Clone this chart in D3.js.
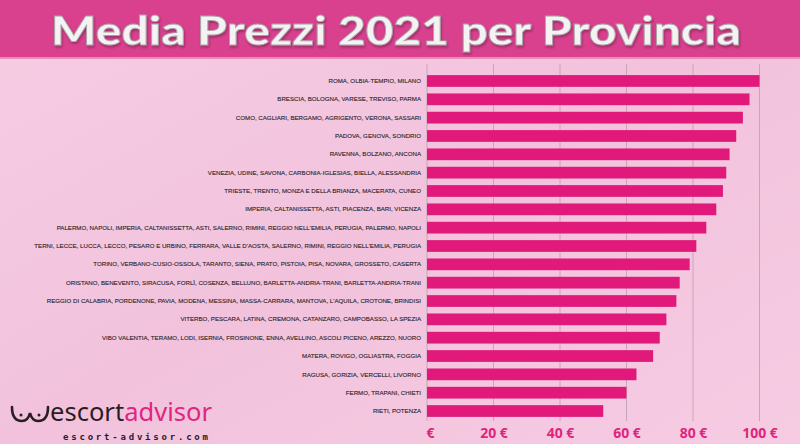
<!DOCTYPE html>
<html><head><meta charset="utf-8">
<script src="https://cdn.jsdelivr.net/npm/d3@7"></script>
<style>html,body{margin:0;padding:0;overflow:hidden;}svg{display:block;}</style>
</head><body><svg id="c" width="800" height="444"></svg>
<script>
const title = "Media Prezzi 2021 per Provincia";
const categories = [
 "ROMA, OLBIA-TEMPIO, MILANO",
 "BRESCIA, BOLOGNA, VARESE, TREVISO, PARMA",
 "COMO, CAGLIARI, BERGAMO, AGRIGENTO, VERONA, SASSARI",
 "PADOVA, GENOVA, SONDRIO",
 "RAVENNA, BOLZANO, ANCONA",
 "VENEZIA, UDINE, SAVONA, CARBONIA-IGLESIAS, BIELLA, ALESSANDRIA",
 "TRIESTE, TRENTO, MONZA E DELLA BRIANZA, MACERATA, CUNEO",
 "IMPERIA, CALTANISSETTA, ASTI, PIACENZA, BARI, VICENZA",
 "PALERMO, NAPOLI, IMPERIA, CALTANISSETTA, ASTI, SALERNO, RIMINI, REGGIO NELL'EMILIA, PERUGIA, PALERMO, NAPOLI",
 "TERNI, LECCE, LUCCA, LECCO, PESARO E URBINO, FERRARA, VALLE D'AOSTA, SALERNO, RIMINI, REGGIO NELL'EMILIA, PERUGIA",
 "TORINO, VERBANO-CUSIO-OSSOLA, TARANTO, SIENA, PRATO, PISTOIA, PISA, NOVARA, GROSSETO, CASERTA",
 "ORISTANO, BENEVENTO, SIRACUSA, FORLÌ, COSENZA, BELLUNO, BARLETTA-ANDRIA-TRANI, BARLETTA-ANDRIA-TRANI",
 "REGGIO DI CALABRIA, PORDENONE, PAVIA, MODENA, MESSINA, MASSA-CARRARA, MANTOVA, L'AQUILA, CROTONE, BRINDISI",
 "VITERBO, PESCARA, LATINA, CREMONA, CATANZARO, CAMPOBASSO, LA SPEZIA",
 "VIBO VALENTIA, TERAMO, LODI, ISERNIA, FROSINONE, ENNA, AVELLINO, ASCOLI PICENO, AREZZO, NUORO",
 "MATERA, ROVIGO, OGLIASTRA, FOGGIA",
 "RAGUSA, GORIZIA, VERCELLI, LIVORNO",
 "FERMO, TRAPANI, CHIETI",
 "RIETI, POTENZA"
];
const values = [100, 97, 95, 93, 91, 90, 89, 87, 84, 81, 79, 76, 75, 72, 70, 68, 63, 60, 53];
const tickValues = [0, 20, 40, 60, 80, 100];
const tickLabels = ["€", "20 €", "40 €", "60 €", "80 €", "100 €"];

const svg = d3.select("#c");
const W = 800, H = 444;
const defs = svg.append("defs");
const bg = defs.append("linearGradient").attr("id","bg").attr("x1","0").attr("y1","0").attr("x2","1").attr("y2","1");
bg.append("stop").attr("offset","0").attr("stop-color","#f6cde4");
bg.append("stop").attr("offset","0.5").attr("stop-color","#f2c2dc");
bg.append("stop").attr("offset","1").attr("stop-color","#f6cce3");
svg.append("rect").attr("width",W).attr("height",H).attr("fill","url(#bg)");
const sh = defs.append("filter").attr("id","sh").attr("x","-5%").attr("y","-20%").attr("width","110%").attr("height","140%");
sh.append("feDropShadow").attr("dx",1).attr("dy",2).attr("stdDeviation",1.2).attr("flood-color","#7a2050").attr("flood-opacity",0.6);

// title band
svg.append("rect").attr("x",0).attr("y",0).attr("width",W).attr("height",57).attr("fill","#d9418e");
svg.append("rect").attr("x",0).attr("y",57).attr("width",W).attr("height",2).attr("fill","#e88cbc");
svg.append("text").attr("x",396).attr("y",45).attr("text-anchor","middle")
  .attr("font-family","Lato").attr("font-weight",900).attr("font-size",40)
  .attr("fill","#f4f2f3").attr("stroke","#a9a3a8").attr("stroke-width",0.8)
  .attr("textLength",690).attr("lengthAdjust","spacingAndGlyphs")
  .attr("filter","url(#sh)").text(title);

const x = d3.scaleLinear().domain([0,100]).range([427,759.5]);
const y = d3.scaleBand().domain(categories).range([71.8,420.2]).paddingInner(0.36).paddingOuter(0.18);

// gridlines
const g = svg.append("g");
g.selectAll("line.grid").data(tickValues).join("line")
  .attr("x1",d=>x(d)).attr("x2",d=>x(d)).attr("y1",64).attr("y2",421)
  .attr("stroke","#c7a6b8").attr("stroke-width",1);

// bars
g.selectAll("rect.bar").data(values).join("rect")
  .attr("x",x(0)).attr("y",(d,i)=>y(categories[i])).attr("width",d=>x(d)-x(0))
  .attr("height",y.bandwidth()).attr("fill","#e1197b");

// labels
g.selectAll("text.lab").data(categories).join("text")
  .attr("x",421).attr("y",d=>y(d)+y.bandwidth()/2).attr("dy","0.35em")
  .attr("text-anchor","end").attr("font-family","Liberation Sans, Arial").attr("font-size",6.15)
  .attr("fill","#2c2428").attr("stroke","#2c2428").attr("stroke-width",0.12).text(d=>d);

// x axis labels
const ax = svg.append("g").attr("transform","translate(0,438)")
  .call(d3.axisBottom(x).tickValues(tickValues).tickFormat((d,i)=>tickLabels[i]).tickSize(0).tickPadding(0));
ax.select(".domain").remove();
ax.selectAll("text").attr("y",0).attr("dy",0).attr("font-family","Open Sans").attr("font-weight",700)
  .attr("font-size",14).attr("fill","#e0247e");
ax.selectAll("text").filter((d)=>d===0).attr("dx",3);

// logo
const lg = svg.append("g");
lg.append("path").attr("d","M12 407 Q12 421 22 421 Q28 421 30 413 Q32 421 38 421 Q48 421 48 407")
  .attr("fill","none").attr("stroke","#2a1e24").attr("stroke-width",2.6).attr("stroke-linecap","round");
lg.append("circle").attr("cx",21).attr("cy",415).attr("r",1.5).attr("fill","#2a1e24");
lg.append("circle").attr("cx",39).attr("cy",415).attr("r",1.5).attr("fill","#2a1e24");
const lt = lg.append("text").attr("x",50).attr("y",421).attr("font-family","Noto Sans").attr("font-size",26)
  .attr("textLength",162).attr("lengthAdjust","spacingAndGlyphs");
lt.append("tspan").attr("fill","#2a1e24").text("escort");
lt.append("tspan").attr("fill","#e0267f").text("advisor");
lg.append("text").attr("x",63).attr("y",440).attr("font-family","DejaVu Sans Mono").attr("font-weight",700)
  .attr("font-size",9).attr("fill","#2a1e24").attr("textLength",145).text("escort-advisor.com");
</script></body></html>
